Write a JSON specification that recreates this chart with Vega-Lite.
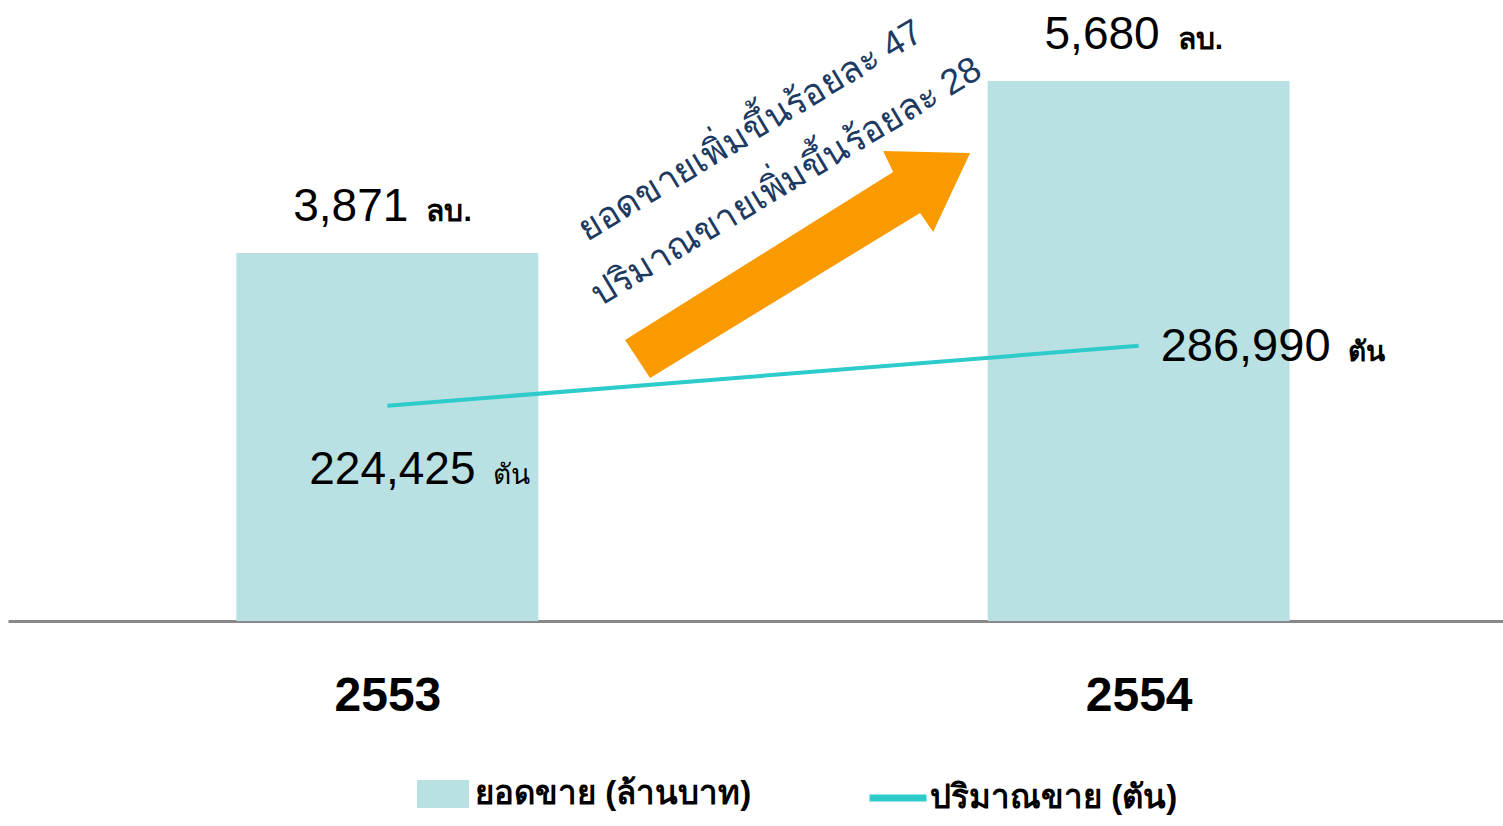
{
  "$schema": "https://vega.github.io/schema/vega-lite/v6.json",
  "width": 1495,
  "height": 621,
  "autosize": {"type": "none"},
  "padding": {"left": 8, "top": 0, "right": 0, "bottom": 205},
  "background": "white",
  "config": {
    "view": {"stroke": null},
    "font": "Liberation Sans"
  },
  "datasets": {
    "main": [
      {"year": 2553, "sales": 3871, "volume": 224425},
      {"year": 2554, "sales": 5680, "volume": 286990}
    ],
    "notes": [
      {"year": 2553.483, "sales": 5154, "note": "ยอดขายเพิ่มขึ้นร้อยละ 47"},
      {"year": 2553.531, "sales": 4618, "note": "ปริมาณขายเพิ่มขึ้นร้อยละ 28"}
    ],
    "arrow": [
      {"year": 2553.546, "sales": 3750}
    ]
  },
  "encoding": {
    "x": {
      "field": "year", "type": "quantitative",
      "scale": {"domain": [2552.495, 2554.485], "nice": false, "zero": false, "padding": 0},
      "axis": {
        "title": null,
        "values": [2553, 2554],
        "format": "d",
        "labelFontSize": 48,
        "labelFontWeight": "bold",
        "labelColor": "black",
        "labelFont": "Liberation Sans",
        "labelBaseline": "alphabetic",
        "labelPadding": 89,
        "labelFlush": false,
        "labelOverlap": false,
        "ticks": false,
        "tickSize": 0,
        "grid": false,
        "domainColor": "#898989",
        "domainWidth": 3
      }
    }
  },
  "layer": [
    {
      "data": {"name": "main"},
      "mark": {"type": "bar", "size": 302, "strokeWidth": 0},
      "encoding": {
        "y": {"field": "sales", "type": "quantitative", "scale": {"domain": [0, 6532], "nice": false}, "axis": null},
        "fill": {
          "datum": "ยอดขาย (ล้านบาท)", "type": "nominal",
          "scale": {"range": ["#b9e0e3"]},
          "legend": {
            "orient": "none", "legendX": 409, "legendY": 768, "title": null, "padding": 0,
            "symbolType": "M-1,-0.54H1V0.54H-1Z", "symbolSize": 2704, "symbolStrokeWidth": 0,
            "labelFontSize": 33, "labelFontWeight": "bold", "labelColor": "black", "labelOffset": 6, "labelLimit": 0
          }
        }
      }
    },
    {
      "data": {"name": "main"},
      "mark": {"type": "line", "strokeWidth": 4},
      "encoding": {
        "y": {"field": "volume", "type": "quantitative", "scale": {"domain": [0, 647500], "nice": false}, "axis": null},
        "stroke": {
          "datum": "ปริมาณขาย (ตัน)", "type": "nominal",
          "scale": {"range": ["#2ecbcb"]},
          "legend": {
            "orient": "none", "legendX": 858, "legendY": 766, "title": null, "padding": 0,
            "symbolType": "stroke", "symbolSize": 3249, "symbolStrokeWidth": 7,
            "labelFontSize": 33, "labelFontWeight": "bold", "labelColor": "black", "labelOffset": 0, "labelLimit": 0
          }
        }
      }
    },
    {
      "data": {"name": "main"},
      "mark": {"type": "text", "align": "right", "baseline": "alphabetic", "dx": 21, "dy": -32, "fontSize": 46, "fontWeight": 500, "color": "black"},
      "encoding": {
        "y": {"field": "sales", "type": "quantitative", "scale": {"domain": [0, 6532], "nice": false}, "axis": null},
        "text": {"field": "sales", "type": "quantitative", "format": ","}
      }
    },
    {
      "data": {"name": "main"},
      "mark": {"type": "text", "align": "left", "baseline": "alphabetic", "dx": 39, "dy": -32, "fontSize": 30, "fontWeight": "bold", "color": "black", "text": "ลบ."},
      "encoding": {
        "y": {"field": "sales", "type": "quantitative", "scale": {"domain": [0, 6532], "nice": false}, "axis": null}
      }
    },
    {
      "data": {"name": "main"},
      "transform": [{"filter": "datum.year == 2553"}],
      "mark": {"type": "text", "align": "center", "baseline": "alphabetic", "dx": 5, "dy": 78, "fontSize": 46, "color": "black"},
      "encoding": {
        "y": {"field": "volume", "type": "quantitative", "scale": {"domain": [0, 647500], "nice": false}, "axis": null},
        "text": {"field": "volume", "type": "quantitative", "format": ","}
      }
    },
    {
      "data": {"name": "main"},
      "transform": [{"filter": "datum.year == 2553"}],
      "mark": {"type": "text", "align": "left", "baseline": "alphabetic", "dx": 106, "dy": 78, "fontSize": 28, "color": "black", "text": "ตัน"},
      "encoding": {
        "y": {"field": "volume", "type": "quantitative", "scale": {"domain": [0, 647500], "nice": false}, "axis": null}
      }
    },
    {
      "data": {"name": "main"},
      "transform": [{"filter": "datum.year == 2554"}],
      "mark": {"type": "text", "align": "left", "baseline": "alphabetic", "dx": 22, "dy": 15, "fontSize": 47, "color": "black"},
      "encoding": {
        "y": {"field": "volume", "type": "quantitative", "scale": {"domain": [0, 647500], "nice": false}, "axis": null},
        "text": {"field": "volume", "type": "quantitative", "format": ","}
      }
    },
    {
      "data": {"name": "main"},
      "transform": [{"filter": "datum.year == 2554"}],
      "mark": {"type": "text", "align": "left", "baseline": "alphabetic", "dx": 209, "dy": 15, "fontSize": 28, "fontWeight": "bold", "color": "black", "text": "ตัน"},
      "encoding": {
        "y": {"field": "volume", "type": "quantitative", "scale": {"domain": [0, 647500], "nice": false}, "axis": null}
      }
    },
    {
      "data": {"name": "arrow"},
      "mark": {"type": "point", "filled": true, "opacity": 1, "strokeWidth": 0, "color": "#f99b00",
               "shape": "M-1,0.438L0.554,-0.536L0.496,-0.658L1,-0.646L0.786,-0.188L0.71,-0.299L-0.855,0.658Z",
               "size": 119025},
      "encoding": {
        "y": {"field": "sales", "type": "quantitative", "scale": {"domain": [0, 6532], "nice": false}, "axis": null}
      }
    },
    {
      "data": {"name": "notes"},
      "mark": {"type": "text", "align": "center", "baseline": "middle", "angle": -31, "fontSize": 36, "fontWeight": 500, "color": "#1d3a62"},
      "encoding": {
        "y": {"field": "sales", "type": "quantitative", "scale": {"domain": [0, 6532], "nice": false}, "axis": null},
        "text": {"field": "note", "type": "nominal"}
      }
    }
  ],
  "resolve": {"scale": {"y": "independent"}}
}
